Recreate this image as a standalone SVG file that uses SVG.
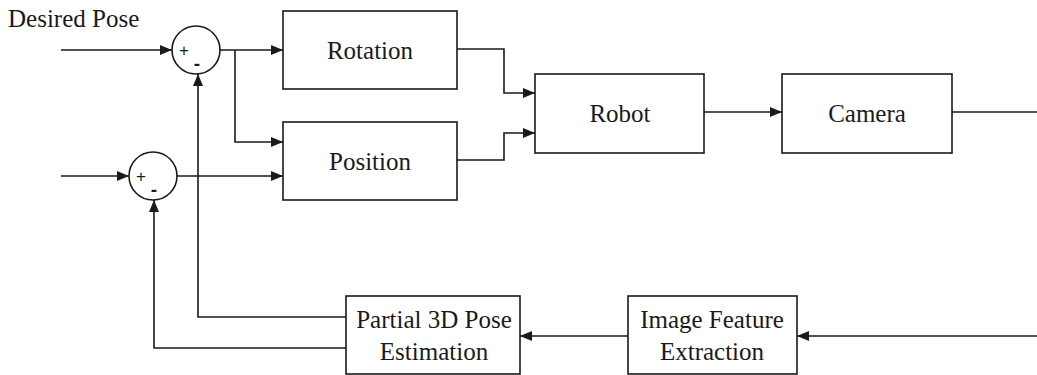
<svg xmlns="http://www.w3.org/2000/svg" width="1037" height="375" viewBox="0 0 1037 375">
<style>
.box{fill:#fff;stroke:#1a1a1a;stroke-width:1.6}
.sum{fill:#fff;stroke:#1a1a1a;stroke-width:1.6}
.ln{fill:none;stroke:#1a1a1a;stroke-width:1.6}
.t{font-family:"Liberation Serif",serif;font-size:25px;fill:#1a1a1a;text-anchor:middle}
.s{font-family:"Liberation Sans",sans-serif;font-size:17px;fill:#1a1a1a;text-anchor:middle}
.m{font-family:"Liberation Sans",sans-serif;font-size:19px;font-weight:bold;fill:#1a1a1a;text-anchor:middle}
</style>
<defs>
<marker id="arr" markerWidth="12" markerHeight="10" refX="12" refY="5" orient="auto" markerUnits="userSpaceOnUse">
<path d="M0,0 L12,5 L0,10 Z" fill="#1a1a1a"/>
</marker>
</defs>
<text x="8" y="27" style="font-family:'Liberation Serif',serif;font-size:25px;fill:#1a1a1a">Desired Pose</text>
<g id="connectors">
<path class="ln" d="M61,50 H172" marker-end="url(#arr)"/>
<path class="ln" d="M220,50 H283" marker-end="url(#arr)"/>
<path class="ln" d="M235,50 V142 H283" marker-end="url(#arr)"/>
<path class="ln" d="M61,176 H129" marker-end="url(#arr)"/>
<path class="ln" d="M177,176 H283" marker-end="url(#arr)"/>
<path class="ln" d="M457,49 H504 V93 H535" marker-end="url(#arr)"/>
<path class="ln" d="M457,160 H504 V133 H535" marker-end="url(#arr)"/>
<path class="ln" d="M704,112 H782" marker-end="url(#arr)"/>
<path class="ln" d="M952,112 H1037"/>
<path class="ln" d="M1037,336 H797" marker-end="url(#arr)"/>
<path class="ln" d="M628,336 H520" marker-end="url(#arr)"/>
<path class="ln" d="M346,317 H198 V74" marker-end="url(#arr)"/>
<path class="ln" d="M346,348 H154 V200" marker-end="url(#arr)"/>
</g>
<g id="sum1">
<circle class="sum" cx="196" cy="50" r="24"/>
<text class="s" x="184" y="56">+</text>
<text class="m" x="197" y="70">-</text>
</g>
<g id="sum2">
<circle class="sum" cx="153" cy="176" r="24"/>
<text class="s" x="141" y="182">+</text>
<text class="m" x="154" y="196">-</text>
</g>
<g id="rotation">
<rect class="box" x="283" y="11" width="174" height="78"/>
<text class="t" x="370" y="59">Rotation</text>
</g>
<g id="position">
<rect class="box" x="283" y="122" width="174" height="78"/>
<text class="t" x="370" y="170">Position</text>
</g>
<g id="robot">
<rect class="box" x="535" y="74" width="169" height="79"/>
<text class="t" x="620" y="122">Robot</text>
</g>
<g id="camera">
<rect class="box" x="782" y="74" width="170" height="79"/>
<text class="t" x="867" y="122">Camera</text>
</g>
<g id="pose">
<rect class="box" x="346" y="296" width="174" height="78"/>
<text class="t" x="434" y="328">Partial 3D Pose</text>
<text class="t" x="434" y="360">Estimation</text>
</g>
<g id="feature">
<rect class="box" x="628" y="296" width="169" height="78"/>
<text class="t" x="712" y="328">Image Feature</text>
<text class="t" x="712" y="360">Extraction</text>
</g>
</svg>
